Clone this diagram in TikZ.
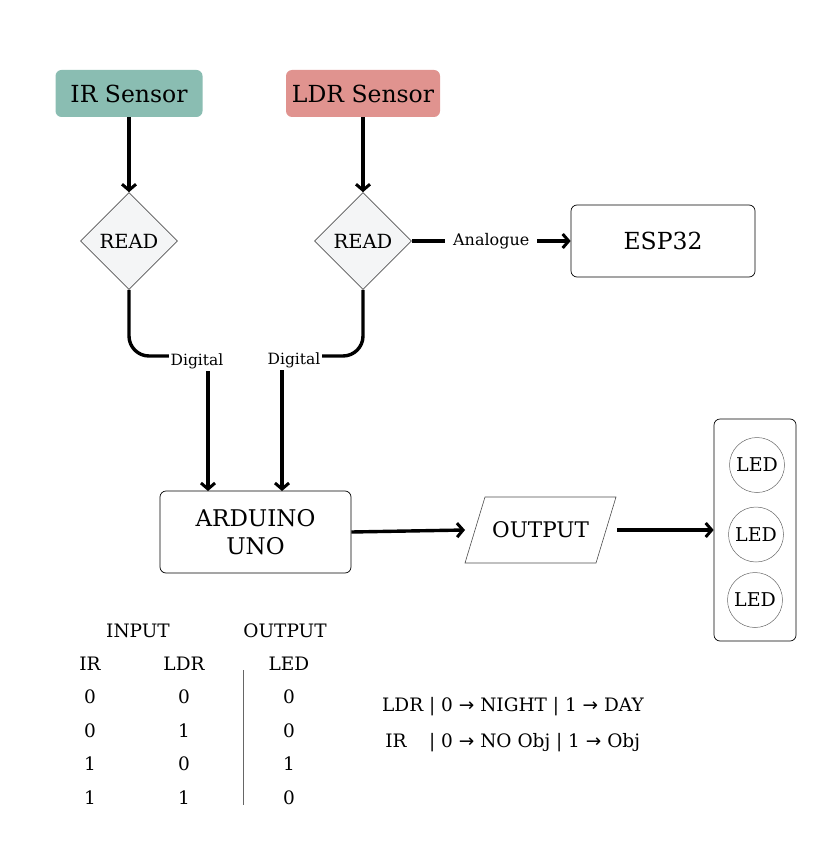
\documentclass[tikz,border=0pt]{standalone}
\usepackage{fontspec}
\setmainfont{DejaVu Serif}
\newfontfamily\symf{DejaVu Sans}
\usetikzlibrary{shapes.geometric,arrows.meta}
\definecolor{irc}{HTML}{8ABDB2}
\definecolor{ldrc}{HTML}{E0938F}
\definecolor{dfill}{HTML}{F4F5F6}
\definecolor{dline}{HTML}{555555}
\newcommand{\fs}[1]{\fontsize{#1}{#1}\selectfont}
\newcommand{\ar}{{\symf →}}
\begin{document}
\begin{tikzpicture}[x=1pt,y=-1pt,
  arr/.style={line width=3.4pt,-{Straight Barb[length=6pt,width=14pt,line width=3pt]}},
  thick3/.style={line width=3.4pt},
  sensor/.style={rounded corners=6pt,minimum width=147pt,minimum height=47pt,inner sep=0pt,font=\fs{23.5}},
  dia/.style={diamond,draw=dline,line width=0.6pt,fill=dfill,minimum width=97pt,minimum height=97pt,inner sep=0pt,font=\fs{19.5}},
  box/.style={draw=black,line width=0.7pt,rounded corners=6pt,inner sep=0pt,align=center},
  lbl/.style={fill=white,inner sep=2pt,font=\fs{15.5}},
  led/.style={circle,draw=black!60,line width=0.5pt,minimum size=55pt,inner sep=0pt,font=\fs{19}},
  tt/.style={font=\fs{18.5},inner sep=0pt}
]
\useasboundingbox (0,0) rectangle (817,842);
% sensors
\node[sensor,fill=irc] (ir) at (129,93.5) {IR Sensor};
\node[sensor,fill=ldrc,minimum width=154pt] (ldr) at (363,93.5) {LDR Sensor};
% diamonds
\node[dia] (r1) at (129,241) {READ};
\node[dia] (r2) at (363,241) {READ};
\draw[arr] (ir) -- (r1);
\draw[arr] (ldr) -- (r2);
% ESP32
\node[box,minimum width=184pt,minimum height=72pt,font=\fs{23.5}] (esp) at (663,241) {ESP32};
\draw[arr] (r2) -- node[lbl,font=\fs{16},inner xsep=8pt] {Analogue} (esp);
% Arduino
\node[box,minimum width=191pt,minimum height=82pt,font=\fs{23}] (ard) at (255.5,532) {ARDUINO\\[5pt]UNO};
\coordinate (d1) at (208,491);
\coordinate (d2) at (282,491);
\draw[thick3,rounded corners=20pt] (r1.south) |- (200,356);
\draw[arr] (208,370) -- (d1);
\node[lbl] (dg1) at (197,361) {Digital};
\draw[thick3,rounded corners=20pt] (r2.south) |- (290,356);
\draw[arr] (282,370) -- (d2);
\node[lbl] (dg2) at (294,360) {Digital};
% output parallelogram
\coordinate (p1) at (485,497);
\coordinate (p2) at (616,497);
\coordinate (p3) at (596,563);
\coordinate (p4) at (465,563);
\draw[black!70,line width=0.6pt] (p1) -- (p2) -- (p3) -- (p4) -- cycle;
\node[inner sep=0pt,font=\fs{21.5}] (outp) at (540.5,530) {OUTPUT};
\coordinate (oin) at (465,530);
\coordinate (oout) at (617,530);
\draw[arr] (ard.east) -- (oin);
% LED container
\node[box,minimum width=82pt,minimum height=222pt] (ledbox) at (755,530) {};
\draw[arr] (oout) -- (ledbox.west);
\node[led] (l1) at (757,465) {LED};
\node[led] (l2) at (756,534.5) {LED};
\node[led] (l3) at (755,600) {LED};
% table
\node[tt] (hin) at (138,631) {INPUT};
\node[tt] (hout) at (285,631) {OUTPUT};
\node[tt] (hir) at (90,664) {IR};
\node[tt] (hldr) at (184,664) {LDR};
\node[tt] (hled) at (289,664) {LED};
\node[tt] (a1) at (90,697) {0};  \node[tt] (b1) at (184,697) {0}; \node[tt] (c1) at (289,697) {0};
\node[tt] (a2) at (90,731) {0};  \node[tt] (b2) at (184,731) {1}; \node[tt] (c2) at (289,731) {0};
\node[tt] (a3) at (90,764) {1};  \node[tt] (b3) at (184,764) {0}; \node[tt] (c3) at (289,764) {1};
\node[tt] (a4) at (90,798) {1};  \node[tt] (b4) at (184,798) {1}; \node[tt] (c4) at (289,798) {0};
\coordinate (vt) at (243,670);
\coordinate (vb) at (243,805);
\draw[black!60,line width=0.8pt] (vt) -- (vb);
% legend
\node[tt,anchor=west] (lg1) at (382,707) {LDR | 0 \ar{} NIGHT | 1 \ar{} DAY};
\node[tt,anchor=west] (lg2) at (382,743) {\rlap{\,IR}\hphantom{LDR} | 0 \ar{} NO Obj | 1 \ar{} Obj};
\end{tikzpicture}
\end{document}
